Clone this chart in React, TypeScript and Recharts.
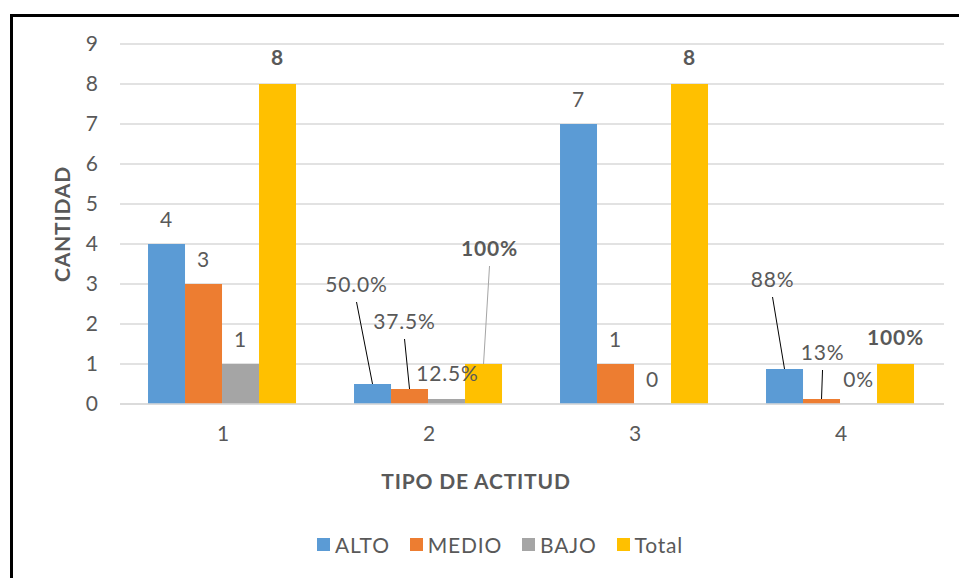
import React from 'react'
import { BarChart, Bar, XAxis, YAxis, CartesianGrid, Legend, LabelList } from 'recharts'

const categories = ['1', '2', '3', '4']
const alto = [4, 0.5, 7, 0.875]
const medio = [3, 0.375, 1, 0.125]
const bajo = [1, 0.125, 0, 0]
const total = [8, 1, 8, 1]

const altoLabels = ['4', '50.0%', '7', '88%']
const medioLabels = ['3', '37.5%', '1', '13%']
const bajoLabels = ['1', '12.5%', '0', '0%']
const totalLabels = ['8', '100%', '8', '100%']

const yTicks = [0, 1, 2, 3, 4, 5, 6, 7, 8, 9]

const SERIES = [
    { key: 'ALTO', color: '#5b9bd5', labels: altoLabels, bold: false },
    { key: 'MEDIO', color: '#ed7d31', labels: medioLabels, bold: false },
    { key: 'BAJO', color: '#a5a5a5', labels: bajoLabels, bold: false },
    { key: 'Total', color: '#ffc000', labels: totalLabels, bold: true },
]

// label placement relative to the top centre of each bar: [dx, dy, leader line colour]
const LABEL_POS: Record<string, [number, number, string?]> = {
    'ALTO-1': [-16, -99, '#000'],
    'MEDIO-1': [-5, -67, '#000'],
    'BAJO-1': [1, -25],
    'Total-1': [6, -115, '#a5a5a5'],
    'ALTO-3': [-12, -89, '#000'],
    'MEDIO-3': [1, -46, '#000'],
}

const data = categories.map((name, i) => ({
    name,
    ALTO: alto[i],
    MEDIO: medio[i],
    BAJO: bajo[i],
    Total: total[i],
}))

const FONT = 'Lato, "Open Sans", sans-serif'
const TEXT = '#595959'
const FS = 21
const LS = 0.8

const makeLabel = (seriesKey: string, labels: string[], bold: boolean) => (props: any) => {
    const { x, y, width, height, index } = props
    const cx = Number(x) + Number(width) / 2
    // zero bars get a tiny min size so they keep their label; anchor at the baseline
    const top = Math.min(Number(y), Number(y) + Number(height))
    const pos = LABEL_POS[`${seriesKey}-${index}`] || [0, bold ? -26 : -24]
    const lx = cx + pos[0]
    const ly = top + pos[1]
    return (
        <g key={`${seriesKey}-${index}`}>
            {pos[2] && (
                <line x1={lx} y1={ly + 17} x2={cx} y2={top} stroke={pos[2]} strokeWidth={1} />
            )}
            <text
                x={lx}
                y={ly + 7}
                textAnchor="middle"
                fill={TEXT}
                fontSize={FS}
                letterSpacing={LS}
                fontFamily={FONT}
                fontWeight={bold ? 'bold' : 'normal'}
            >
                {labels[index]}
            </text>
        </g>
    )
}

const renderXTitle = (props: any) => {
    const vb = props.viewBox
    return (
        <text
            x={vb.x + vb.width / 2 - 56}
            y={vb.y + vb.height - 43}
            textAnchor="middle"
            fill={TEXT}
            fontSize={FS}
            fontWeight="bold"
            fontFamily={FONT}
            letterSpacing={LS}
        >
            TIPO DE ACTITUD
        </text>
    )
}

const renderLegend = () => (
    <div style={{ display: 'flex', justifyContent: 'center', gap: 20, paddingLeft: 16, fontFamily: FONT, fontSize: FS, letterSpacing: LS, color: TEXT }}>
        {SERIES.map((s) => (
            <div key={s.key} style={{ display: 'flex', alignItems: 'center' }}>
                <span style={{ width: 13, height: 13, background: s.color, marginRight: 5, display: 'inline-block' }} />
                <span>{s.key}</span>
            </div>
        ))}
    </div>
)

export default function App() {
    return (
        <div style={{ position: 'absolute', left: 0, top: 0, width: 959, height: 578, background: '#fff', overflow: 'hidden' }}>
            <div
                style={{
                    position: 'absolute',
                    left: 10,
                    top: 14,
                    width: 960,
                    height: 580,
                    borderTop: '3px solid #000',
                    borderLeft: '3px solid #000',
                }}
            />
            <div style={{ position: 'absolute', left: 0, top: 0 }}>
                <BarChart
                    width={959}
                    height={578}
                    data={data}
                    margin={{ top: 44, right: 15, left: 40, bottom: 2 }}
                    barGap={0}
                    barCategoryGap="13.6%"
                >
                    <CartesianGrid vertical={false} stroke="#d9d9d9" strokeWidth={1.5} />
                    <XAxis
                        dataKey="name"
                        axisLine={{ stroke: '#d9d9d9', strokeWidth: 1.5 }}
                        tickLine={false}
                        tick={{ fill: TEXT, fontSize: FS, fontFamily: FONT }}
                        tickMargin={16}
                        height={128}
                        label={{ content: renderXTitle }}
                    />
                    <YAxis
                        domain={[0, 9]}
                        ticks={yTicks}
                        axisLine={false}
                        tickLine={false}
                        tick={{ fill: TEXT, fontSize: FS, fontFamily: FONT }}
                        tickMargin={16}
                        width={80}
                        label={{
                            value: 'CANTIDAD',
                            angle: -90,
                            position: 'insideLeft',
                            offset: 23,
                            fill: TEXT,
                            fontSize: FS,
                            fontWeight: 'bold',
                            fontFamily: FONT,
                            letterSpacing: LS,
                            style: { textAnchor: 'middle' },
                        }}
                    />
                    <Legend verticalAlign="bottom" height={44} content={renderLegend} />
                    {SERIES.map((s) => (
                        <Bar
                            key={s.key}
                            dataKey={s.key}
                            fill={s.color}
                            isAnimationActive={false}
                            minPointSize={(v: number) => (v === 0 ? 0.5 : 0)}
                        >
                            <LabelList dataKey={s.key} content={makeLabel(s.key, s.labels, s.bold)} />
                        </Bar>
                    ))}
                </BarChart>
            </div>
        </div>
    )
}
